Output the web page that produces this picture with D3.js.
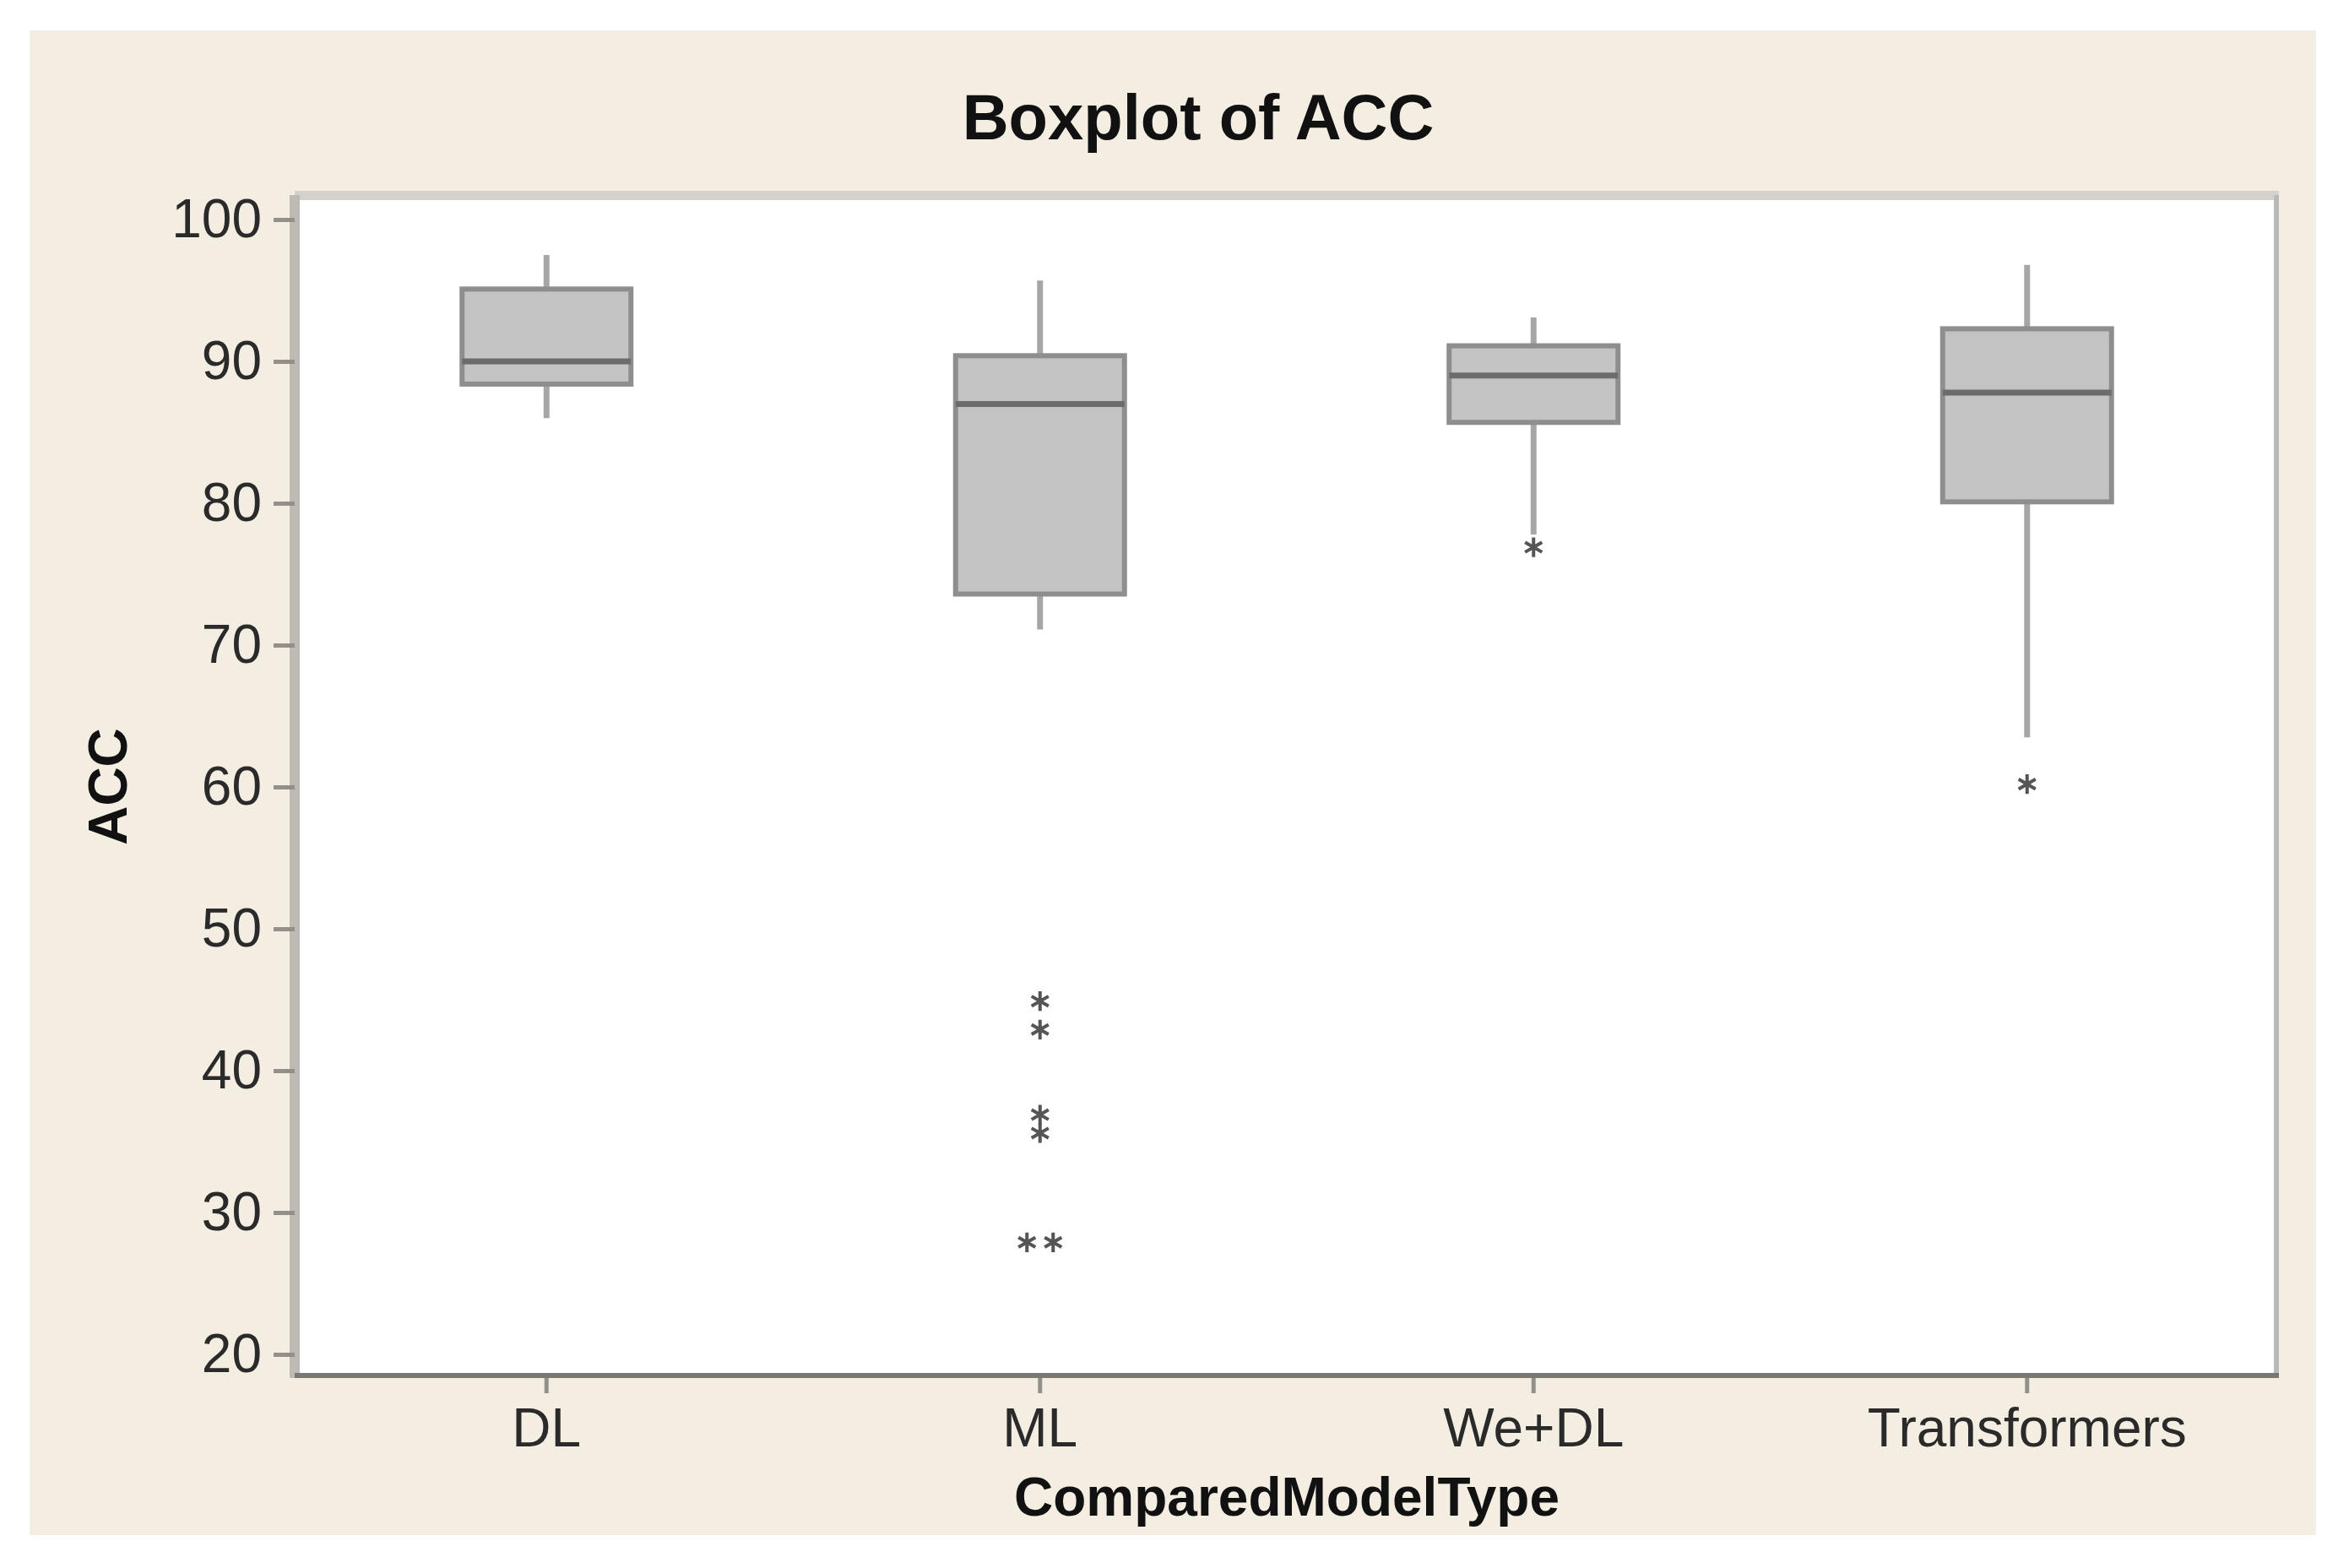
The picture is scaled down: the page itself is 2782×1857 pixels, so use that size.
<!DOCTYPE html>
<html>
<head>
<meta charset="utf-8">
<title>Boxplot of ACC</title>
<script src="https://cdn.jsdelivr.net/npm/d3@7/dist/d3.min.js"></script>
<style>
  html, body { margin: 0; padding: 0; background: #ffffff; }
  text { font-family: "Liberation Sans", Arial, sans-serif; }
</style>
</head>
<body>
<script>
// values
var categories = ['DL', 'ML', 'We+DL', 'Transformers'];
var whiskerHigh = [97.5, 95.7, 93.1, 96.8];
var q3 = [95.1, 90.4, 91.1, 92.3];
var median = [90.0, 87.0, 89.0, 87.8];
var q1 = [88.4, 73.6, 85.7, 80.1];
var whiskerLow = [86.0, 71.1, 77.8, 63.5];
var outliers = [[], [44.9, 42.9, 36.9, 35.6, 27.9, 27.9], [76.9], [60.2]];
var yTicks = [20, 30, 40, 50, 60, 70, 80, 90, 100];

var W = 2782, H = 1857;
var pLeft = 355, pRight = 2693, pTop = 237, pBottom = 1626;

var svg = d3.select('body').append('svg')
  .attr('width', W)
  .attr('height', H);

// panel background
svg.append('rect').attr('x', 35).attr('y', 36)
  .attr('width', 2743 - 35).attr('height', 1818 - 36)
  .attr('fill', '#f3ede2');

// plot area and its frame
svg.append('rect').attr('x', pLeft).attr('y', pTop)
  .attr('width', pRight - pLeft).attr('height', pBottom - pTop)
  .attr('fill', '#ffffff');
svg.append('rect').attr('x', pLeft - 6).attr('y', pTop - 11)
  .attr('width', pRight - pLeft + 12).attr('height', 11).attr('fill', '#d4d2cd');
svg.append('rect').attr('x', pLeft - 12).attr('y', pTop - 6)
  .attr('width', 12).attr('height', pBottom - pTop + 12).attr('fill', '#bdb9b3');
svg.append('rect').attr('x', pRight).attr('y', pTop - 6)
  .attr('width', 6).attr('height', pBottom - pTop + 12).attr('fill', '#b9b9b9');
svg.append('rect').attr('x', pLeft - 6).attr('y', pBottom)
  .attr('width', pRight - pLeft + 12).attr('height', 6).attr('fill', '#7a7873');

var y = d3.scaleLinear().domain([20, 100]).range([1604, 260]);
var x = d3.scaleBand().domain(categories).range([pLeft, pRight]).padding(0);
var bw = 200;

// axes
var yAxis = svg.append('g')
  .attr('transform', 'translate(' + (pLeft - 6) + ',0)')
  .call(d3.axisLeft(y).tickValues(yTicks).tickSize(25).tickPadding(14));
yAxis.select('.domain').remove();
yAxis.selectAll('line').attr('stroke', '#948f88').attr('stroke-width', 5);
yAxis.selectAll('text').attr('font-size', 64).attr('fill', '#2a2a2a')
  .attr('font-family', '"Liberation Sans", Arial, sans-serif');

var xAxis = svg.append('g')
  .attr('transform', 'translate(0,' + (pBottom + 6) + ')')
  .call(d3.axisBottom(x).tickSize(18).tickPadding(18));
xAxis.select('.domain').remove();
xAxis.selectAll('line').attr('stroke', '#948f88').attr('stroke-width', 5);
xAxis.selectAll('text').attr('font-size', 64).attr('fill', '#2a2a2a')
  .attr('font-family', '"Liberation Sans", Arial, sans-serif');

// boxes
var boxes = svg.selectAll('g.box')
  .data(categories)
  .enter()
  .append('g')
  .attr('class', 'box')
  .attr('transform', function(d) {
    return 'translate(' + (x(d) + x.bandwidth() / 2) + ',0)';
  });

boxes.append('line')
  .attr('x1', 0).attr('x2', 0)
  .attr('y1', function(d, i) { return y(whiskerHigh[i]); })
  .attr('y2', function(d, i) { return y(q3[i]); })
  .attr('stroke', '#a6a6a6').attr('stroke-width', 7);

boxes.append('line')
  .attr('x1', 0).attr('x2', 0)
  .attr('y1', function(d, i) { return y(q1[i]); })
  .attr('y2', function(d, i) { return y(whiskerLow[i]); })
  .attr('stroke', '#a6a6a6').attr('stroke-width', 7);

boxes.append('rect')
  .attr('x', -bw / 2)
  .attr('y', function(d, i) { return y(q3[i]); })
  .attr('width', bw)
  .attr('height', function(d, i) { return y(q1[i]) - y(q3[i]); })
  .attr('fill', '#c3c3c3')
  .attr('stroke', '#8e8e8e')
  .attr('stroke-width', 6);

boxes.append('line')
  .attr('x1', -bw / 2).attr('x2', bw / 2)
  .attr('y1', function(d, i) { return y(median[i]); })
  .attr('y2', function(d, i) { return y(median[i]); })
  .attr('stroke', '#6c6c6c').attr('stroke-width', 7);

// outliers, ties are put side by side
var star = d3.symbol().type(d3.symbolAsterisk || d3.symbolCross).size(380);
boxes.each(function(d, i) {
  var pts = [];
  outliers[i].forEach(function(v) {
    var same = pts.filter(function(p) { return p.v === v; }).length;
    pts.push({ v: v, k: same });
  });
  pts.forEach(function(p) {
    var n = outliers[i].filter(function(v) { return v === p.v; }).length;
    p.dx = (p.k - (n - 1) / 2) * 31;
  });
  d3.select(this).selectAll('path.out')
    .data(pts)
    .enter()
    .append('path')
    .attr('class', 'out')
    .attr('d', star)
    .attr('transform', function(p) { return 'translate(' + p.dx + ',' + y(p.v) + ')'; })
    .attr('fill', 'none')
    .attr('stroke', '#555555')
    .attr('stroke-width', 4);
});

// titles
svg.append('text')
  .attr('x', 1419).attr('y', 165)
  .attr('text-anchor', 'middle')
  .attr('font-size', 76).attr('font-weight', 'bold').attr('fill', '#111')
  .text('Boxplot of ACC');

svg.append('text')
  .attr('x', (pLeft + pRight) / 2).attr('y', 1795)
  .attr('text-anchor', 'middle')
  .attr('font-size', 64).attr('font-weight', 'bold').attr('fill', '#111')
  .text('ComparedModelType');

svg.append('text')
  .attr('transform', 'translate(150,' + ((pTop + pBottom) / 2) + ') rotate(-90)')
  .attr('text-anchor', 'middle')
  .attr('font-size', 64).attr('font-weight', 'bold').attr('fill', '#111')
  .text('ACC');
</script>
</body>
</html>
